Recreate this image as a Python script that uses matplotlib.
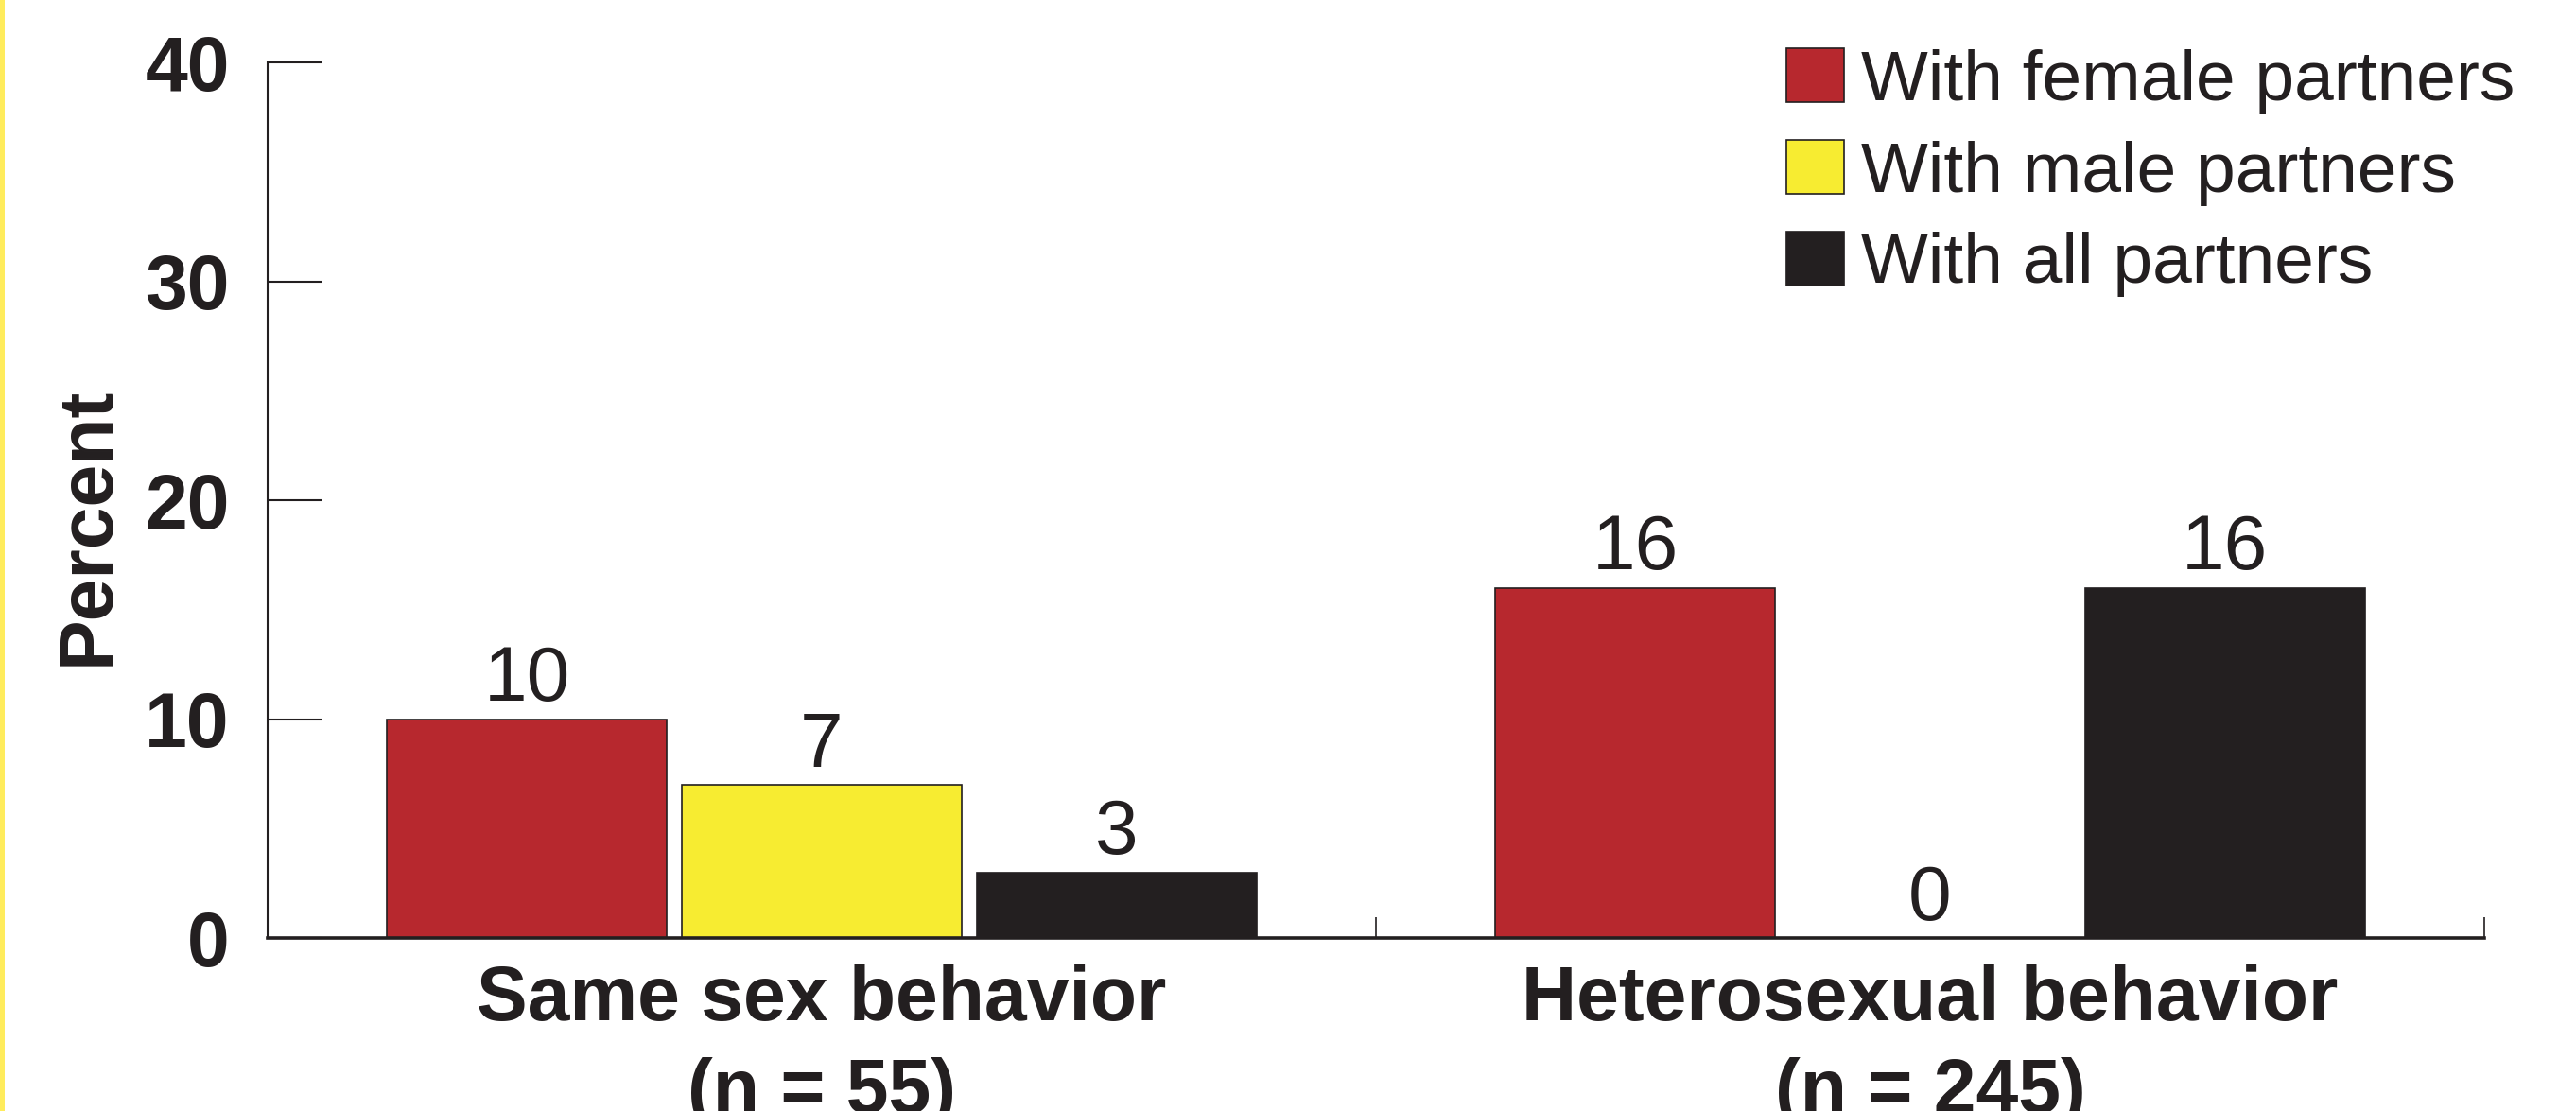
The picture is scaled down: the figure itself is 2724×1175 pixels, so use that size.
import matplotlib
matplotlib.use("Agg")
import matplotlib.pyplot as plt
from matplotlib.patches import Rectangle

plt.rcParams["font.family"] = ["Liberation Sans", "DejaVu Sans"]

# data
groups = ["Same sex behavior\n(n = 55)", "Heterosexual behavior\n(n = 245)"]
series = ["With female partners", "With male partners", "With all partners"]
female = [10, 16]
male = [7, 0]
allp = [3, 16]
values = [female, male, allp]
colors = ["#b7282e", "#f7ec31", "#231f20"]
ink = "#231f20"

fig = plt.figure(figsize=(27.24, 11.75), dpi=100)
ax = fig.add_axes([0.1039, 0.1557, 0.8605, 0.7881])

width = 0.2526
step = 0.266
for i, (name, vals) in enumerate(zip(series, values)):
    xs = [g + 0.5 + (i - 1) * step for g in range(len(groups))]
    ax.bar(xs, vals, width=width, color=colors[i], edgecolor=ink,
           linewidth=1.2, label=name, zorder=2)
    for x, v in zip(xs, vals):
        ax.annotate(str(v), (x, v), xytext=(0, 14), textcoords="offset points",
                    ha="center", va="baseline", fontsize=59, color=ink)

ax.set_xlim(0, 2)
ax.set_ylim(0, 40)
ax.set_yticks([0, 10, 20, 30, 40])
ax.set_xticks([1, 2])
ax.set_xticklabels([])
ax.set_xticks([0.5, 1.5], minor=True)
ax.set_xticklabels(groups, minor=True, fontsize=58, fontweight="bold",
                   color=ink, linespacing=1.37)

ax.tick_params(axis="y", direction="in", length=42, width=1.5, color=ink,
               labelsize=58, pad=29, labelcolor=ink)
for lab in ax.get_yticklabels():
    lab.set_fontweight("bold")
ax.tick_params(axis="x", which="major", direction="in", length=16, width=1.2,
               color=ink)
ax.tick_params(axis="x", which="minor", length=0, pad=20)

for s in ["top", "right"]:
    ax.spines[s].set_visible(False)
ax.spines["left"].set_linewidth(1.5)
ax.spines["left"].set_color(ink)
ax.spines["bottom"].set_linewidth(2.6)
ax.spines["bottom"].set_color(ink)
ax.spines["bottom"].set_zorder(3)

ax.set_ylabel("Percent", fontsize=58, fontweight="bold", color=ink)
ax.yaxis.set_label_coords(-0.0644, 0.47)

leg = ax.legend(loc="upper left", bbox_to_anchor=(1889 / 2724, 1 - 51 / 1175),
                bbox_transform=fig.transFigure, frameon=False, fontsize=54,
                handlelength=0.81, handleheight=0.80, handletextpad=0.25,
                labelspacing=0.36, borderpad=0, borderaxespad=0)
for t in leg.get_texts():
    t.set_color(ink)

# yellow stripe on left edge
fig.add_artist(Rectangle((0, 0), 5 / 2724, 1, transform=fig.transFigure,
                         color="#ffec5c", lw=0))

fig.savefig("out.png", dpi=100)
